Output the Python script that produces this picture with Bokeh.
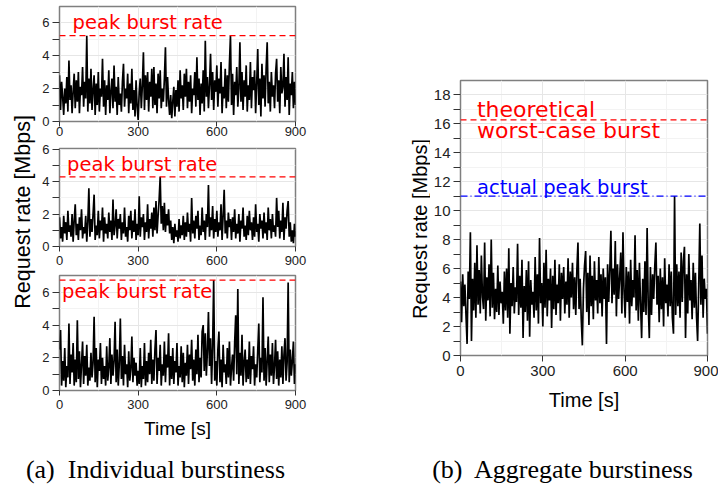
from bokeh.plotting import figure
from bokeh.layouts import row, column
from bokeh.models import Span, Label, FixedTicker, Div, Spacer
from bokeh.embed import file_html
from bokeh.resources import INLINE

# ---------------- data (one value every 4 s, 0..900 s) ----------------
rate_a = [2.8, 0.7, 2.4, 1.5, 0.4, 2.0, 1.1, 2.7, 0.6, 3.7, 1.3, 2.2, 0.5, 1.8, 2.9,
          0.8, 2.5, 1.2, 3.0, 0.5, 2.1, 1.6, 3.3, 0.9, 2.4, 1.4, 5.2, 0.6, 2.6, 1.1,
          3.2, 0.7, 1.9, 2.8, 0.4, 2.3, 1.0, 3.0, 0.6, 2.0, 1.5, 3.8, 0.9, 2.5, 0.4,
          2.2, 1.3, 3.1, 0.5, 1.8, 2.6, 0.8, 3.4, 1.2, 2.1, 0.4, 2.7, 1.0, 1.7, 0.6,
          2.4, 3.5, 0.9, 2.0, 1.4, 2.9, 0.5, 2.3, 1.1, 3.2, 0.7, 1.9, 0.3, 2.5, 0.9,
          0.1, 1.8, 2.6, 0.8, 2.2, 4.2, 0.7, 2.8, 1.3, 3.0, 0.6, 2.4, 1.5, 3.2, 0.8,
          3.3, 1.0, 2.3, 0.5, 2.9, 1.4, 3.1, 0.8, 2.0, 1.2, 2.6, 4.5, 0.9, 2.7, 1.3,
          0.4, 1.6, 0.2, 1.2, 2.1, 0.3, 1.9, 0.9, 2.5, 0.6, 3.1, 1.4, 2.2, 0.7, 2.9,
          1.5, 3.2, 0.8, 2.4, 1.2, 2.8, 0.5, 2.0, 1.6, 3.0, 0.9, 3.9, 1.3, 2.6, 0.4,
          2.3, 1.1, 3.1, 0.6, 4.9, 1.5, 2.7, 0.8, 2.2, 4.1, 1.3, 3.0, 0.7, 2.5, 1.8,
          3.4, 0.9, 2.6, 1.7, 3.6, 0.5, 2.1, 1.4, 3.2, 0.8, 2.8, 1.2, 3.5, 5.2, 1.0,
          2.9, 0.4, 2.4, 1.6, 3.3, 0.9, 2.0, 4.8, 1.2, 3.0, 0.7, 2.5, 1.5, 3.4, 0.6,
          2.2, 1.3, 3.6, 0.8, 2.7, 1.9, 3.1, 0.5, 2.3, 4.4, 1.0, 2.6, 0.3, 3.5, 1.4,
          2.8, 0.9, 3.2, 4.8, 1.1, 2.4, 0.6, 3.0, 1.5, 2.2, 0.8, 2.9, 3.8, 1.2, 2.5,
          0.5, 3.3, 1.7, 2.1, 4.1, 0.9, 2.7, 1.3, 3.9, 0.4, 2.3, 1.6, 3.0, 0.8, 2.4,
          1.0]

rate_b = [1.8, 0.5, 1.2, 0.3, 1.9, 0.8, 1.5, 0.4, 2.2, 0.9, 1.3, 0.6, 2.0, 0.3, 1.6,
          2.6, 0.7, 1.4, 0.4, 1.8, 1.0, 2.3, 0.5, 1.2, 0.8, 1.9, 0.3, 1.5, 3.6, 0.6,
          1.7, 0.9, 2.0, 3.2, 0.4, 1.3, 0.7, 2.2, 0.5, 1.6, 1.0, 2.4, 0.3, 1.8, 0.8,
          1.4, 0.5, 2.1, 0.9, 1.6, 0.4, 2.9, 0.7, 1.3, 2.3, 0.5, 1.7, 1.1, 2.0, 0.4,
          1.5, 0.8, 2.4, 0.6, 1.2, 0.3, 1.9, 1.0, 2.2, 0.5, 1.6, 0.9, 2.3, 0.4, 1.4,
          0.7, 3.1, 0.6, 1.8, 1.2, 2.0, 0.4, 1.5, 0.9, 2.6, 0.5, 1.7, 1.1, 2.1, 0.6,
          2.4, 1.0, 2.8, 0.8, 1.9, 2.9, 4.3, 1.4, 2.5, 1.0, 2.7, 0.9, 2.0, 1.3, 2.3,
          0.8, 1.6, 0.4, 1.2, 0.2, 1.4, 0.6, 1.0, 0.3, 1.7, 0.5, 1.3, 0.7, 1.9, 0.4,
          1.5, 0.6, 2.1, 0.9, 1.4, 0.3, 3.0, 0.8, 1.6, 0.5, 1.9, 1.1, 2.2, 0.4, 1.3,
          0.7, 2.4, 0.9, 1.6, 0.4, 2.0, 1.2, 3.8, 0.6, 1.8, 1.0, 2.5, 0.5, 1.7, 0.9,
          2.2, 0.6, 1.5, 1.0, 2.6, 0.4, 1.9, 3.5, 0.8, 1.6, 0.5, 2.1, 1.2, 1.7, 0.4,
          1.8, 0.9, 2.3, 0.5, 1.4, 0.8, 2.0, 0.3, 1.6, 1.1, 2.4, 0.6, 1.3, 0.4, 1.9,
          0.7, 2.2, 1.0, 1.5, 0.4, 1.8, 0.6, 2.6, 0.9, 1.4, 0.3, 2.0, 1.1, 1.6, 0.5,
          2.1, 0.8, 1.5, 0.4, 2.4, 1.0, 1.7, 0.5, 2.0, 0.9, 1.3, 0.6, 3.0, 1.2, 2.2,
          0.5, 1.6, 0.9, 2.7, 0.4, 1.8, 1.1, 2.2, 2.8, 0.6, 1.5, 0.3, 1.0, 0.2, 1.4,
          0.6]

rate_c = [2.5, 3.7, 0.3, 1.8, 0.6, 2.6, 0.2, 1.5, 0.8, 4.1, 0.4, 2.2, 1.1, 2.9, 0.3,
          1.9, 0.5, 4.3, 0.7, 2.4, 0.2, 1.6, 3.0, 0.4, 2.1, 0.9, 2.8, 0.3, 1.4, 0.6,
          2.3, 0.8, 1.7, 4.5, 0.5, 2.6, 0.2, 1.9, 1.2, 2.9, 0.4, 2.0, 0.7, 1.5, 0.3,
          2.7, 0.6, 1.4, 3.2, 0.4, 2.2, 0.9, 1.8, 4.2, 0.5, 2.5, 0.3, 1.6, 4.4, 0.7,
          2.1, 0.3, 2.8, 1.0, 1.6, 0.2, 2.4, 0.6, 1.3, 3.3, 0.5, 2.0, 0.9, 1.7, 0.3,
          1.2, 0.4, 2.6, 0.2, 1.5, 0.7, 2.9, 0.3, 1.8, 0.5, 2.3, 1.0, 3.1, 0.4, 1.9,
          0.6, 2.5, 3.7, 0.4, 2.0, 1.2, 2.8, 0.3, 1.6, 0.9, 3.0, 0.5, 2.2, 1.4, 3.5,
          0.3, 2.1, 0.7, 2.6, 0.4, 1.8, 1.1, 2.9, 0.3, 1.5, 0.8, 2.7, 0.5, 2.3, 0.2,
          1.7, 0.9, 2.8, 0.4, 2.2, 1.3, 3.1, 0.6, 1.9, 0.3, 2.5, 1.0, 3.4, 0.5, 2.0,
          0.8, 3.6, 4.0, 1.2, 3.5, 0.9, 2.4, 4.8, 1.5, 3.2, 0.4, 2.7, 6.75, 0.6, 1.8,
          0.3, 2.5, 3.6, 0.5, 1.9, 0.2, 2.8, 1.1, 1.6, 0.4, 2.6, 0.8, 3.0, 0.3, 1.4,
          2.2, 0.6, 2.9, 4.6, 1.0, 6.2, 0.4, 2.3, 0.9, 3.4, 0.3, 1.7, 2.5, 0.5, 1.9,
          0.7, 3.0, 0.4, 2.1, 1.3, 2.7, 0.3, 1.6, 0.8, 2.4, 4.1, 0.5, 2.0, 1.1, 5.7,
          0.6, 2.6, 0.3, 1.8, 3.3, 0.5, 2.2, 0.9, 2.9, 0.4, 1.5, 3.1, 0.7, 2.4, 0.3,
          1.9, 0.8, 2.7, 0.4, 2.2, 3.2, 0.6, 1.7, 6.6, 0.5, 2.5, 0.9, 1.8, 3.0, 0.4,
          1.6]

rate_agg = [5.1, 2.3, 5.6, 3.4, 4.9, 2.8, 0.8, 5.8, 3.9, 8.5, 1.0, 5.3, 3.1, 6.4, 2.6,
            7.6, 3.5, 5.9, 2.9, 6.9, 4.1, 3.2, 7.8, 2.4, 5.4, 3.8, 6.3, 2.7, 8.0, 3.3,
            5.7, 2.5, 4.6, 3.0, 6.2, 2.8, 5.1, 3.6, 4.4, 2.2, 5.8, 3.1, 6.0, 2.6, 7.4,
            1.5, 5.0, 3.4, 6.1, 2.9, 4.7, 3.7, 7.7, 2.8, 5.5, 3.3, 6.6, 1.2, 4.8, 3.0,
            5.9, 2.4, 6.5, 1.3, 5.2, 3.5, 4.4, 2.6, 6.8, 3.1, 5.6, 2.2, 8.1, 3.6, 5.0,
            2.0, 6.4, 3.3, 7.3, 2.7, 5.3, 3.8, 6.0, 1.9, 5.5, 3.2, 6.6, 2.8, 4.9, 3.6,
            6.3, 2.4, 5.7, 3.9, 6.1, 2.9, 5.1, 3.5, 6.7, 2.6, 5.8, 4.0, 6.4, 3.2, 5.4,
            2.8, 5.9, 7.8, 3.2, 5.3, 2.5, 0.7, 4.6, 6.2, 7.2, 3.0, 5.7, 2.1, 6.9, 3.4,
            5.5, 2.5, 6.5, 3.8, 5.2, 2.9, 6.8, 3.6, 5.6, 2.7, 6.0, 3.9, 5.4, 0.8, 6.3,
            3.7, 5.9, 8.6, 3.6, 6.0, 4.2, 7.9, 2.7, 6.3, 3.9, 5.4, 7.1, 2.9, 8.5, 4.4,
            2.6, 6.1, 3.7, 5.8, 2.2, 6.6, 3.4, 5.2, 4.0, 8.3, 3.1, 5.9, 2.4, 6.4, 3.6,
            1.2, 5.3, 3.0, 6.5, 2.8, 8.8, 3.5, 1.2, 6.1, 2.8, 5.6, 3.9, 6.2, 7.8, 3.5,
            5.5, 2.3, 6.0, 3.2, 5.4, 2.0, 6.7, 3.6, 4.9, 2.7, 6.3, 3.4, 5.8, 2.6, 1.5,
            11.0, 2.8, 6.3, 3.4, 5.8, 2.6, 7.1, 3.7, 6.5, 7.5, 1.2, 5.6, 2.9, 7.0, 3.8,
            5.2, 2.5, 6.4, 3.3, 5.7, 2.7, 1.0, 4.8, 9.1, 3.5, 6.9, 2.6, 5.3, 3.9, 4.6,
            1.5]

step_s = 4
time_a = [i * step_s for i in range(len(rate_a))]
time_b = [i * step_s for i in range(len(rate_b))]
time_c = [i * step_s for i in range(len(rate_c))]
time_agg = [i * step_s for i in range(len(rate_agg))]

x_ticks = [0, 300, 600, 900]
x_minor = [150, 450, 750]
y_ticks_small = [0, 2, 4, 6]
y_minor_small = [1, 3, 5]
y_ticks_big = [0, 2, 4, 6, 8, 10, 12, 14, 16, 18]
y_minor_big = [1, 3, 5, 7, 9, 11, 13, 15, 17]

peak_label = "peak burst rate"
theo_label = ["theoretical", "worst-case burst"]
actual_label = "actual peak burst"
y_title = "Request rate [Mbps]"
x_title = "Time [s]"
captions = ["(a)  Individual burstiness", "(b)  Aggregate burstiness"]

# ---------------- style ----------------
FRAME = "#7f7f7f"
GRID = "#e6e6e6"
GRID_MINOR = "#f3f3f3"
TICK_TXT = "#222222"
SANS = "Liberation Sans"
ANN = "DejaVu Sans"
LINE_W = 1.7


def styled(p, tick_px, ticks_y, minor_y, x_tick_len, y_tick_len, x_standoff, y_standoff):
    p.outline_line_color = FRAME
    p.outline_line_width = 1.5
    p.background_fill_color = "white"
    p.border_fill_color = "white"
    p.xaxis.ticker = FixedTicker(ticks=x_ticks, minor_ticks=x_minor)
    p.yaxis.ticker = FixedTicker(ticks=ticks_y, minor_ticks=minor_y)
    p.xgrid.ticker = FixedTicker(ticks=x_ticks, minor_ticks=x_minor)
    p.ygrid.ticker = FixedTicker(ticks=ticks_y, minor_ticks=minor_y)
    for g in (p.xgrid, p.ygrid):
        g.grid_line_color = GRID
        g.grid_line_width = 1
        g.minor_grid_line_color = GRID_MINOR
        g.minor_grid_line_width = 1
    for ax in (p.xaxis, p.yaxis):
        ax.axis_line_color = None
        ax.major_tick_line_color = "#333333"
        ax.minor_tick_line_color = "#333333"
        ax.major_tick_in = 0
        ax.minor_tick_in = 0
        ax.major_label_text_font = SANS
        ax.major_label_text_font_size = tick_px
        ax.major_label_text_color = TICK_TXT
        ax.axis_label_text_font = SANS
        ax.axis_label_text_font_style = "normal"
        ax.axis_label_text_color = "black"
    p.xaxis.major_tick_out = x_tick_len
    p.xaxis.minor_tick_out = 0
    p.yaxis.major_tick_out = y_tick_len
    p.yaxis.minor_tick_out = y_tick_len
    p.xaxis.major_label_standoff = x_standoff
    p.yaxis.major_label_standoff = y_standoff
    return p


def small_panel(times, values, height, b_top, b_bottom, y_end, x_standoff,
                label_x, label_dy, xlabel_standoff=None):
    p = figure(width=270, height=height, x_range=(0, 900), y_range=(0, y_end),
               toolbar_location=None, output_backend="svg",
               min_border_left=21, min_border_right=13,
               min_border_top=b_top, min_border_bottom=b_bottom)
    styled(p, "13px", y_ticks_small, y_minor_small, 5, 7, x_standoff, 3)
    p.line(times, values, line_color="black", line_width=LINE_W)
    peak = max(values)
    p.add_layout(Span(location=peak, dimension="width", line_color="red",
                      line_dash="6 4", line_width=1.3))
    p.add_layout(Label(x=label_x, y=peak + label_dy, text=peak_label, text_color="red",
                       text_font=ANN, text_font_size="19.5px", text_align="left",
                       text_baseline="alphabetic"))
    if xlabel_standoff is not None:
        p.xaxis.axis_label = x_title
        p.xaxis.axis_label_text_font_size = "19px"
        p.xaxis.axis_label_standoff = xlabel_standoff
    return p


f1 = small_panel(time_a, rate_a, 141, 6, 20, 6.97, 0, 50, 0.78)
f2 = small_panel(time_b, rate_b, 129, 7, 24, 6.05, 4, 29, 0.78)
f3 = small_panel(time_c, rate_c, 180, 5, 60, 7.03, 4, 10, -0.72, xlabel_standoff=6)

# left shared y title
ylab_l = figure(width=38, height=450, x_range=(0, 38), y_range=(0, 450),
                x_axis_type=None, y_axis_type=None, toolbar_location=None,
                output_backend="svg", min_border=0)
ylab_l.outline_line_color = None
ylab_l.add_layout(Label(x=22, y=235, text=y_title, angle=90, angle_units="deg",
                        text_align="center", text_baseline="middle",
                        text_font=SANS, text_font_size="21.5px", text_color="black"))

# right aggregate panel
ylab_r = figure(width=122, height=450, x_range=(0, 122), y_range=(0, 450),
                x_axis_type=None, y_axis_type=None, toolbar_location=None,
                output_backend="svg", min_border=0)
ylab_r.outline_line_color = None
ylab_r.add_layout(Label(x=111, y=207, text=y_title, angle=90, angle_units="deg",
                        text_align="center", text_baseline="middle",
                        text_font=SANS, text_font_size="20px", text_color="black"))

fr = figure(width=288, height=450, x_range=(0, 900), y_range=(0, 18.97),
            toolbar_location=None, output_backend="svg",
            min_border_left=27, min_border_right=11, min_border_top=80, min_border_bottom=95)
styled(fr, "15px", y_ticks_big, y_minor_big, 6, 7, 4, 3)
fr.xaxis.axis_label = x_title
fr.xaxis.axis_label_text_font_size = "20px"
fr.xaxis.axis_label_standoff = 10
fr.line(time_agg, rate_agg, line_color="black", line_width=LINE_W)

theoretical = max(rate_a) + max(rate_b) + max(rate_c)
actual = max(rate_agg)
fr.add_layout(Span(location=theoretical, dimension="width", line_color="red",
                   line_dash="6 4", line_width=1.3))
fr.add_layout(Span(location=actual, dimension="width", line_color="blue",
                   line_dash="7 3 1 3", line_width=1.3))
fr.add_layout(Label(x=60, y=theoretical + 0.72, text=theo_label[0], text_color="red",
                    text_font=ANN, text_font_size="22px", text_baseline="alphabetic"))
fr.add_layout(Label(x=60, y=theoretical - 0.73, text=theo_label[1], text_color="red",
                    text_font=ANN, text_font_size="22px", text_baseline="alphabetic"))
fr.add_layout(Label(x=60, y=actual + 0.6, text=actual_label, text_color="blue",
                    text_font=ANN, text_font_size="19.5px", text_baseline="alphabetic"))

cap_style = {"font-family": "Liberation Serif", "font-size": "26px",
             "text-align": "center", "white-space": "pre", "line-height": "30px",
             "color": "black"}
cap_a = Div(text=captions[0], width=311, height=30, margin=(5, 0, 0, 0), styles=cap_style)
cap_b = Div(text=captions[1], width=311, height=30, margin=(5, 0, 0, 0), styles=cap_style)

top = row(ylab_l, column(f1, f2, f3), ylab_r, fr)
bottom = row(cap_a, Spacer(width=96, height=35), cap_b)
root = column(top, bottom)

open("out.html", "w").write(file_html(root, INLINE))
